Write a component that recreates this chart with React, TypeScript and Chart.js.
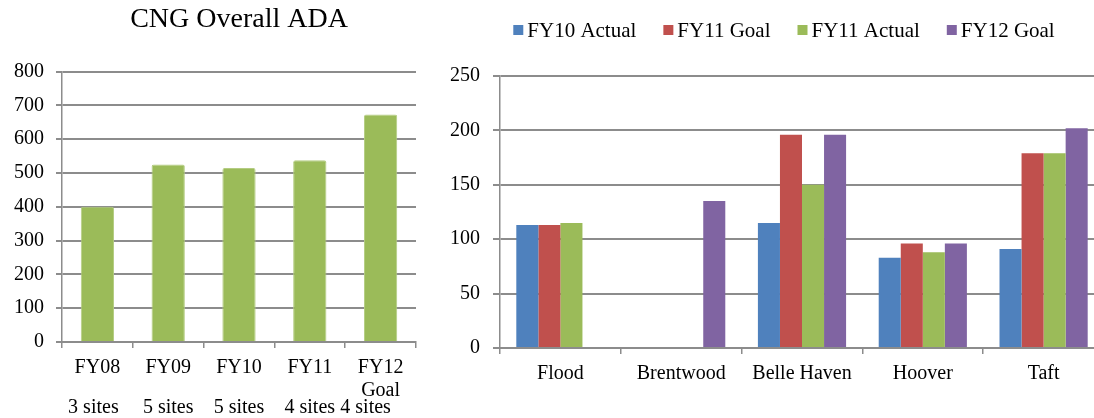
import React, { useEffect, useRef } from "react";
import { Chart, registerables } from "chart.js";

Chart.register(...registerables);

// ---- Left chart data ----
const adaYearLabels: string[][] = [["FY08"], ["FY09"], ["FY10"], ["FY11"], ["FY12", "Goal"]];
const adaValues: number[] = [400, 525, 515, 538, 673];
const adaSites: string[] = ["3 sites", "5 sites", "5 sites", "4 sites", "4 sites"];
const adaTitle = "CNG Overall ADA";

// ---- Right chart data ----
const schools: string[] = ["Flood", "Brentwood", "Belle Haven", "Hoover", "Taft"];
const fy10Actual: (number | null)[] = [113, null, 115, 83, 91];
const fy11Goal: (number | null)[] = [113, null, 196, 96, 179];
const fy11Actual: (number | null)[] = [115, null, 150, 88, 179];
const fy12Goal: (number | null)[] = [null, 135, 196, 96, 202];
const seriesNames: string[] = ["FY10 Actual", "FY11 Goal", "FY11 Actual", "FY12 Goal"];

const FONT = "'Liberation Serif', 'Times New Roman', serif";
const GRID = "#8c8c8c";
const TEXT = "#000000";
const COLORS = ["#4F81BD", "#C0504D", "#9BBB59", "#8064A2"];

const sitesPlugin = {
  id: "sitesRow",
  afterDraw(chart: any) {
    const xs = chart.scales.x;
    const ctx = chart.ctx;
    ctx.save();
    ctx.font = `20px ${FONT}`;
    ctx.fillStyle = TEXT;
    ctx.textAlign = "center";
    ctx.textBaseline = "middle";
    adaSites.forEach((s, i) => {
      const nudge = i === 0 ? -4 : i === adaSites.length - 1 ? -15 : 0;
      ctx.fillText(s, xs.getPixelForValue(i) + nudge, xs.top + 66);
    });
    ctx.restore();
  },
};

const legendPlugin = {
  id: "customLegend",
  afterDraw(chart: any) {
    const ctx = chart.ctx;
    ctx.save();
    ctx.font = `21px ${FONT}`;
    ctx.textBaseline = "middle";
    ctx.textAlign = "left";
    const box = 10;
    const gap = 4;
    const itemGap = 27;
    const items = chart.data.datasets.map((d: any) => ({
      label: d.label,
      color: d.backgroundColor,
      w: ctx.measureText(d.label).width,
    }));
    const total =
      items.reduce((s: number, it: any) => s + box + gap + it.w, 0) + itemGap * (items.length - 1);
    let x = 344 - total / 2;
    items.forEach((it: any) => {
      ctx.fillStyle = it.color;
      ctx.fillRect(x, 25, box, box);
      ctx.fillStyle = TEXT;
      ctx.fillText(it.label, x + box + gap, 31);
      x += box + gap + it.w + itemGap;
    });
    ctx.restore();
  },
};

function LeftChart() {
  const ref = useRef<HTMLCanvasElement | null>(null);
  useEffect(() => {
    if (!ref.current) return;
    const chart = new Chart(ref.current, {
      type: "bar",
      data: {
        labels: adaYearLabels as any,
        datasets: [
          {
            label: adaTitle,
            data: adaValues,
            backgroundColor: "#9BBB59",
            borderColor: "#B4CC82",
            borderWidth: 1,
            borderRadius: 2,
            categoryPercentage: 0.47,
            barPercentage: 1,
          },
        ],
      },
      options: {
        responsive: false,
        animation: false,
        layout: { padding: { top: 0, right: 14, bottom: 0, left: 0 } },
        plugins: {
          legend: { display: false },
          tooltip: { enabled: false },
          title: {
            display: true,
            text: adaTitle,
            fullSize: false,
            color: TEXT,
            font: { family: FONT, size: 28, weight: "normal", lineHeight: 1.2 },
            padding: { top: 3, bottom: 35 },
          } as any,
        },
        scales: {
          x: {
            afterFit(scale: any) {
              scale.height = 76;
            },
            grid: {
              drawOnChartArea: false,
              drawTicks: true,
              tickLength: 6,
              color: GRID,
              lineWidth: 1.5,
            },
            border: { display: true, color: GRID, width: 2 },
            ticks: {
              color: TEXT,
              padding: 8,
              maxRotation: 0,
              autoSkip: false,
              font: { family: FONT, size: 20, lineHeight: 1.17 },
            },
          },
          y: {
            min: 0,
            max: 800,
            afterFit(scale: any) {
              scale.width = 62;
            },
            grid: { color: GRID, lineWidth: 2, drawTicks: true, tickLength: 6 },
            border: { display: true, color: GRID, width: 1.5 },
            ticks: {
              stepSize: 100,
              color: TEXT,
              padding: 12,
              font: { family: FONT, size: 20 },
            },
          },
        },
      },
      plugins: [sitesPlugin],
    });
    return () => chart.destroy();
  }, []);
  return (
    <canvas
      ref={ref}
      width={430}
      height={418}
      style={{ position: "absolute", left: 0, top: 0, width: 430, height: 418 }}
    />
  );
}

function RightChart() {
  const ref = useRef<HTMLCanvasElement | null>(null);
  useEffect(() => {
    if (!ref.current) return;
    const series = [fy10Actual, fy11Goal, fy11Actual, fy12Goal];
    const chart = new Chart(ref.current, {
      type: "bar",
      data: {
        labels: schools,
        datasets: series.map((d, i) => ({
          label: seriesNames[i],
          data: d,
          backgroundColor: COLORS[i],
          borderWidth: 0,
          categoryPercentage: 0.73,
          barPercentage: 1,
        })),
      },
      options: {
        responsive: false,
        animation: false,
        layout: { padding: { top: 76, right: 0, bottom: 0, left: 0 } },
        plugins: {
          legend: { display: false },
          tooltip: { enabled: false },
          title: { display: false },
        },
        scales: {
          x: {
            afterFit(scale: any) {
              scale.height = 70;
            },
            grid: {
              drawOnChartArea: false,
              drawTicks: true,
              tickLength: 6,
              color: GRID,
              lineWidth: 1.5,
            },
            border: { display: true, color: GRID, width: 2 },
            ticks: {
              color: TEXT,
              padding: 8,
              maxRotation: 0,
              autoSkip: false,
              font: { family: FONT, size: 20, lineHeight: 1.2 },
            },
          },
          y: {
            min: 0,
            max: 250,
            afterFit(scale: any) {
              scale.width = 60;
            },
            grid: { color: GRID, lineWidth: 2, drawTicks: true, tickLength: 7 },
            border: { display: true, color: GRID, width: 1.5 },
            ticks: {
              stepSize: 50,
              color: TEXT,
              padding: 13,
              font: { family: FONT, size: 20 },
            },
          },
        },
      },
      plugins: [legendPlugin],
    });
    return () => chart.destroy();
  }, []);
  return (
    <canvas
      ref={ref}
      width={664}
      height={418}
      style={{ position: "absolute", left: 440, top: 0, width: 664, height: 418 }}
    />
  );
}

export default function App() {
  return (
    <div
      style={{
        position: "fixed",
        left: 0,
        top: 0,
        width: 1094,
        height: 418,
        overflow: "hidden",
        background: "#ffffff",
      }}
    >
      <LeftChart />
      <RightChart />
    </div>
  );
}
